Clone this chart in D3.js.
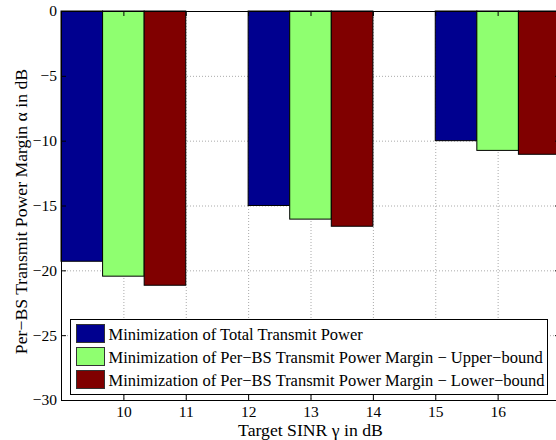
<!DOCTYPE html>
<html>
<head>
<meta charset="utf-8">
<script src="https://cdn.jsdelivr.net/npm/d3@7"></script>
<style>
  body { margin: 0; background: #fff; }
</style>
</head>
<body>
<svg id="chart" width="556" height="440"></svg>
<script>
// data
var sinr_groups = [10, 13, 16];
var series_names = [
  "Minimization of Total Transmit Power",
  "Minimization of Per\u2212BS Transmit Power Margin \u2212 Upper\u2212bound",
  "Minimization of Per\u2212BS Transmit Power Margin \u2212 Lower\u2212bound"
];
var total_power = [-19.3, -15.0, -10.0];
var upper_bound = [-20.45, -16.05, -10.75];
var lower_bound = [-21.15, -16.6, -11.05];
var x_ticks = [10, 11, 12, 13, 14, 15, 16];
var y_ticks = [0, -5, -10, -15, -20, -25, -30];
var colors = ["#00008f", "#8fff70", "#800000"];

var FONT = "'Liberation Serif', 'Times New Roman', serif";

function draw_grouped_bars(svg_el) {
  var margin = {top: 11, right: -4, bottom: 40, left: 61},
      width = +d3.select(svg_el).attr("width") - margin.left - margin.right,
      height = +d3.select(svg_el).attr("height") - margin.top - margin.bottom;

  var x = d3.scaleLinear().domain([9, 17]).range([0, width]);
  var y = d3.scaleLinear().domain([-30, 0]).range([height, 0]);

  var svg = d3.select(svg_el).append("g")
      .attr("transform", "translate(" + margin.left + "," + margin.top + ")");

  // dotted grid
  svg.append("g").selectAll("line")
      .data(x_ticks).enter().append("line")
      .attr("x1", function(d) { return x(d) + 0.5; }).attr("x2", function(d) { return x(d) + 0.5; })
      .attr("y1", 0).attr("y2", height)
      .attr("stroke", "#aaa").attr("stroke-dasharray", "1,2");
  svg.append("g").selectAll("line")
      .data(y_ticks.slice(1, -1)).enter().append("line")
      .attr("x1", 0).attr("x2", width)
      .attr("y1", function(d) { return y(d) + 0.5; }).attr("y2", function(d) { return y(d) + 0.5; })
      .attr("stroke", "#aaa").attr("stroke-dasharray", "1,2");

  // bars: each group is 3 bars of width 2/3 centred on the group value
  var series = [total_power, upper_bound, lower_bound];
  var bw = 2 / 3;
  series.forEach(function(vals, s) {
    svg.append("g").selectAll("rect")
        .data(vals).enter().append("rect")
        .attr("x", function(d, i) { return x(sinr_groups[i] - 1 + s * bw); })
        .attr("width", x(bw) - x(0))
        .attr("y", y(0))
        .attr("height", function(d) { return y(d) - y(0); })
        .attr("fill", colors[s])
        .attr("stroke", "#000").attr("stroke-width", 1);
  });

  // axes (ticks point inwards, box on all sides)
  svg.append("g")
      .attr("transform", "translate(0," + height + ")")
      .call(d3.axisBottom(x).tickValues(x_ticks).tickSize(-5).tickPadding(6).tickFormat(d3.format("d")));
  svg.append("g")
      .call(d3.axisTop(x).tickValues(x_ticks).tickSize(-5).tickFormat(""));
  svg.append("g")
      .call(d3.axisLeft(y).tickValues(y_ticks).tickSize(-5).tickPadding(4)
        .tickFormat(function(d) { return d < 0 ? "\u2212" + Math.abs(d) : d; }));
  svg.append("g")
      .attr("transform", "translate(" + width + ",0)")
      .call(d3.axisRight(y).tickValues(y_ticks).tickSize(-5).tickFormat(""));
  svg.selectAll(".domain").attr("stroke", "#000");
  svg.selectAll(".tick line").attr("stroke", "#000");
  svg.selectAll(".tick text").attr("fill", "#000")
      .style("font-family", FONT).style("font-size", "15.5px");

  // axis labels
  svg.append("text")
      .attr("x", x(13)).attr("y", height + 36)
      .attr("text-anchor", "middle")
      .style("font-family", FONT).style("font-size", "17.7px")
      .text("Target SINR \u03b3 in dB");
  svg.append("text")
      .attr("transform", "translate(" + (-34) + "," + (height / 2 + 6) + ") rotate(-90)")
      .attr("text-anchor", "middle")
      .style("font-family", FONT).style("font-size", "17.7px")
      .text("Per\u2212BS Transmit Power Margin \u03b1 in dB");

  // legend
  var lg = svg.append("g").attr("transform", "translate(9.5,308.5)");
  lg.append("rect").attr("width", 477).attr("height", 75)
      .attr("fill", "#fff").attr("stroke", "#000");
  series_names.forEach(function(name, s) {
    var row = lg.append("g").attr("transform", "translate(0," + (5 + s * 23) + ")");
    row.append("rect").attr("x", 6).attr("y", 0).attr("width", 28).attr("height", 18)
        .attr("fill", colors[s]).attr("stroke", "#333");
    row.append("text").attr("x", 38).attr("y", 15)
        .style("font-family", FONT).style("font-size", "16.5px").text(name);
  });
}

draw_grouped_bars(document.getElementById("chart"));
</script>
</body>
</html>
